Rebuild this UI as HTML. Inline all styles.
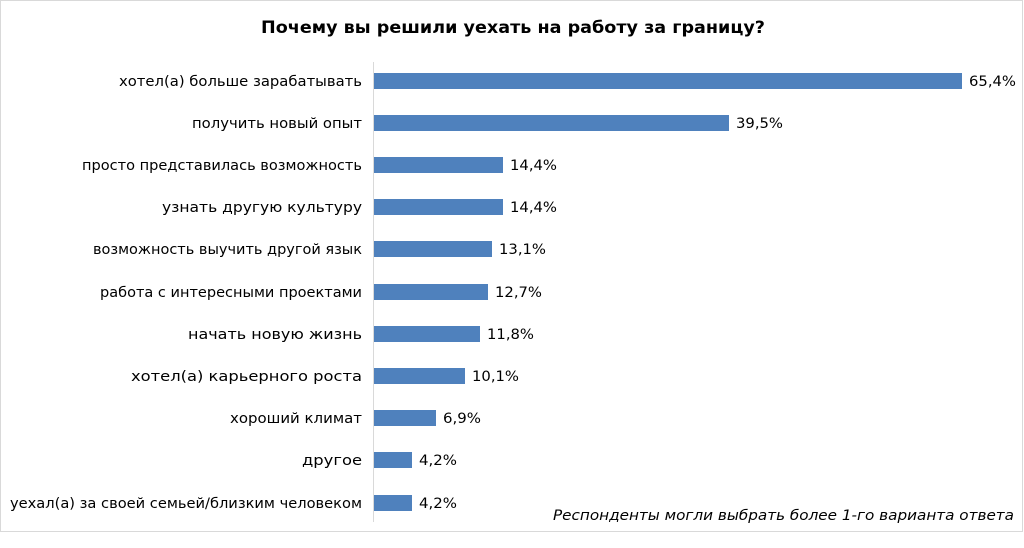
<!DOCTYPE html><html><head><meta charset="utf-8"><style>body{margin:0;background:#fff}</style></head><body>
<svg width="1024" height="543" xmlns="http://www.w3.org/2000/svg" font-family="'DejaVu Sans','Liberation Sans',sans-serif">
<rect x="0.5" y="0.5" width="1022" height="531" fill="#fff" stroke="#d9d9d9"/>
<text x="261" y="33" font-size="17" font-weight="bold" fill="#000" textLength="504" lengthAdjust="spacingAndGlyphs">Почему вы решили уехать на работу за границу?</text>
<line x1="373.5" y1="62" x2="373.5" y2="522" stroke="#d9d9d9"/>
<g fill="#4f81bd">
<rect x="374" y="73" width="588" height="16"/>
<rect x="374" y="115" width="355" height="16"/>
<rect x="374" y="157" width="129" height="16"/>
<rect x="374" y="199" width="129" height="16"/>
<rect x="374" y="241" width="118" height="16"/>
<rect x="374" y="284" width="114" height="16"/>
<rect x="374" y="326" width="106" height="16"/>
<rect x="374" y="368" width="91" height="16"/>
<rect x="374" y="410" width="62" height="16"/>
<rect x="374" y="452" width="38" height="16"/>
<rect x="374" y="495" width="38" height="16"/>
</g>
<g font-size="14" fill="#000" lengthAdjust="spacingAndGlyphs">
<text x="119" y="86" textLength="243" lengthAdjust="spacingAndGlyphs">хотел(а) больше зарабатывать</text>
<text x="192" y="128" textLength="170" lengthAdjust="spacingAndGlyphs">получить новый опыт</text>
<text x="82" y="170" textLength="280" lengthAdjust="spacingAndGlyphs">просто представилась возможность</text>
<text x="162" y="212" textLength="200" lengthAdjust="spacingAndGlyphs">узнать другую культуру</text>
<text x="93" y="254" textLength="269" lengthAdjust="spacingAndGlyphs">возможность выучить другой язык</text>
<text x="100" y="297" textLength="262" lengthAdjust="spacingAndGlyphs">работа с интересными проектами</text>
<text x="188" y="339" textLength="174" lengthAdjust="spacingAndGlyphs">начать новую жизнь</text>
<text x="131" y="381" textLength="231" lengthAdjust="spacingAndGlyphs">хотел(а) карьерного роста</text>
<text x="230" y="423" textLength="132" lengthAdjust="spacingAndGlyphs">хороший климат</text>
<text x="302" y="465" textLength="60" lengthAdjust="spacingAndGlyphs">другое</text>
<text x="10" y="508" textLength="352" lengthAdjust="spacingAndGlyphs">уехал(а) за своей семьей/близким человеком</text>
</g>
<g font-size="14" fill="#000">
<text x="969" y="86" textLength="47" lengthAdjust="spacingAndGlyphs">65,4%</text>
<text x="736" y="128" textLength="47" lengthAdjust="spacingAndGlyphs">39,5%</text>
<text x="510" y="170" textLength="47" lengthAdjust="spacingAndGlyphs">14,4%</text>
<text x="510" y="212" textLength="47" lengthAdjust="spacingAndGlyphs">14,4%</text>
<text x="499" y="254" textLength="47" lengthAdjust="spacingAndGlyphs">13,1%</text>
<text x="495" y="297" textLength="47" lengthAdjust="spacingAndGlyphs">12,7%</text>
<text x="487" y="339" textLength="47" lengthAdjust="spacingAndGlyphs">11,8%</text>
<text x="472" y="381" textLength="47" lengthAdjust="spacingAndGlyphs">10,1%</text>
<text x="443" y="423" textLength="38" lengthAdjust="spacingAndGlyphs">6,9%</text>
<text x="419" y="465" textLength="38" lengthAdjust="spacingAndGlyphs">4,2%</text>
<text x="419" y="508" textLength="38" lengthAdjust="spacingAndGlyphs">4,2%</text>
</g>
<text x="553" y="520" font-size="14" font-style="italic" fill="#000" textLength="461" lengthAdjust="spacingAndGlyphs">Респонденты могли выбрать более 1-го варианта ответа</text>
</svg>
</body></html>
